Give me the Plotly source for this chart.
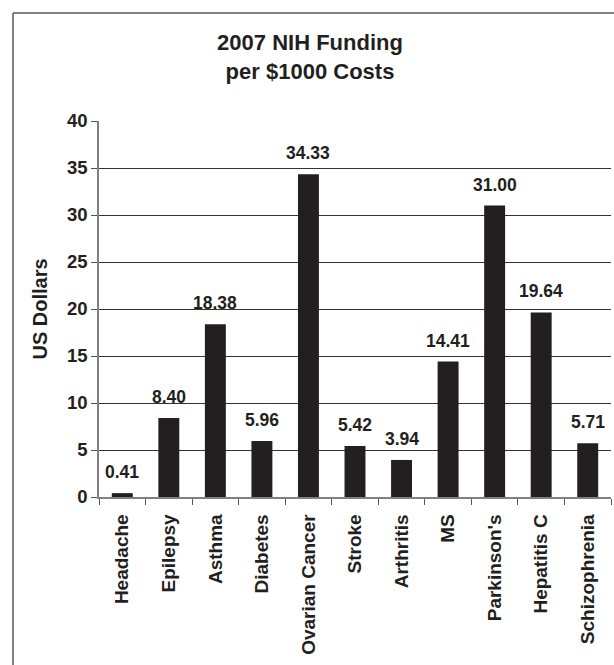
import plotly.graph_objects as go

# 2007 NIH funding per $1000 of disease cost
conditions = ["Headache", "Epilepsy", "Asthma", "Diabetes", "Ovarian Cancer",
              "Stroke", "Arthritis", "MS", "Parkinson's", "Hepatitis C",
              "Schizophrenia"]
funding = [0.41, 8.40, 18.38, 5.96, 34.33, 5.42, 3.94, 14.41, 31.00, 19.64, 5.71]
y_ticks = [0, 5, 10, 15, 20, 25, 30, 35, 40]

W, H = 614, 665
ML, MR, MT, MB = 99, 3, 121, 168
FONT = "Liberation Sans, Arial, sans-serif"
INK = "#231f20"

fig = go.Figure(go.Bar(
    x=conditions, y=funding,
    marker=dict(color=INK, line=dict(width=0)),
    width=0.45,
    hoverinfo="x+y",
))

# value labels above each bar
for c, v in zip(conditions, funding):
    fig.add_annotation(
        x=c, y=v, text=f"{v:.2f}", showarrow=False,
        yanchor="middle", yshift=21,
        font=dict(family=FONT, size=17.5, color=INK, weight="bold"),
    )

# outer frame (left and top edges)
pw, ph = W - ML - MR, H - MT - MB
def px_x(p):
    return (p - ML) / pw
def px_y(p):
    return (H - MB - p) / ph

frame = dict(color="#7f7f7f", width=2)
fig.add_shape(type="line", xref="paper", yref="paper",
              x0=px_x(13), y0=px_y(13), x1=px_x(W + 2), y1=px_y(13), line=frame)
fig.add_shape(type="line", xref="paper", yref="paper",
              x0=px_x(13), y0=px_y(13), x1=px_x(13), y1=px_y(H + 2), line=frame)

fig.update_layout(
    width=W, height=H,
    margin=dict(l=ML, r=MR, t=MT, b=MB),
    paper_bgcolor="white", plot_bgcolor="white",
    showlegend=False,
    font=dict(family=FONT, color=INK),
    title=dict(
        text="2007 NIH Funding<br>per $1000 Costs",
        x=310 / W, xanchor="center", xref="container",
        y=1 - 50 / H, yanchor="middle", yref="container",
        font=dict(family=FONT, size=22, color=INK, weight="bold"),
    ),
    xaxis=dict(
        type="category",
        tickangle=-90,
        tickson="boundaries",
        ticks="outside", ticklen=6, tickcolor="#555555", tickwidth=1,
        ticklabelstandoff=8,
        showline=True, linecolor="#808080", linewidth=1.5,
        showgrid=False,
        tickfont=dict(family=FONT, size=19, color=INK, weight="bold"),
    ),
    yaxis=dict(
        range=[0, 40],
        tickvals=y_ticks,
        ticks="outside", ticklen=6, tickcolor="#555555", tickwidth=1,
        showline=True, linecolor="#808080", linewidth=1.5,
        showgrid=True, gridcolor="#333333", gridwidth=1,
        zeroline=False,
        tickfont=dict(family=FONT, size=18.5, color=INK, weight="bold"),
        title=dict(text="US Dollars", standoff=14,
                   font=dict(family=FONT, size=20, color=INK, weight="bold")),
    ),
    bargap=0.55,
)

fig.write_html("out.html")
